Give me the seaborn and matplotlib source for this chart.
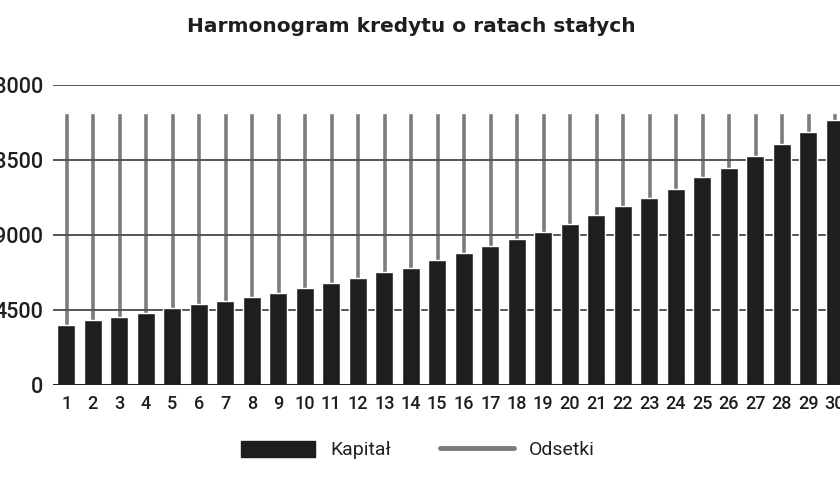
import matplotlib

matplotlib.use("Agg")
import matplotlib.pyplot as plt
import pandas as pd
import seaborn as sns
from matplotlib.lines import Line2D
from matplotlib.patches import Patch

months = list(range(1, 31))
kapital = [3600, 3900, 4060, 4340, 4600, 4840, 5060, 5300, 5550, 5800,
           6100, 6400, 6760, 7040, 7480, 7900, 8320, 8760, 9200, 9640,
           10200, 10760, 11200, 11760, 12480, 13040, 13740, 14460, 15200, 15900]
odsetki = [12700, 12400, 12240, 11960, 11700, 11460, 11240, 11000, 10750, 10500,
           10200, 9900, 9540, 9260, 8820, 8400, 7980, 7540, 7100, 6660,
           6100, 5540, 5100, 4540, 3820, 3260, 2560, 1840, 1100, 400]
y_ticks = [0, 4500, 9000, 13500, 18000]

df = pd.DataFrame({"Miesiac": months, "Kapital": kapital, "Odsetki": odsetki})
df["Rata"] = df["Kapital"] + df["Odsetki"]

sns.set_theme(style="white")
plt.rcParams["font.family"] = ["Roboto", "DejaVu Sans"]

fig = plt.figure(figsize=(8.4, 4.8), dpi=100)
ax = fig.add_axes([53 / 840, 95 / 480, 795 / 840, 300 / 480])

black = "#1e1e1e"
gray = "#7c7c7c"

sns.barplot(data=df, x="Miesiac", y="Rata", color=gray, width=0.2,
            saturation=1, ax=ax, zorder=2)
sns.barplot(data=df, x="Miesiac", y="Kapital", color=black, width=0.68,
            saturation=1, ax=ax, zorder=3)

ax.set_ylim(0, 18000)
ax.set_xlim(-0.5, 29.5)
ax.set_yticks(y_ticks)
ax.set_yticklabels([str(v) for v in y_ticks])
# grid drawn over the thin grey bars, like in the source picture
for v in y_ticks[1:]:
    ax.axhline(v, color="#555555", lw=1.4, zorder=2.5)
ax.axhline(0, color="#222222", lw=2.2, zorder=4)

for s in ax.spines.values():
    s.set_visible(False)
ax.tick_params(axis="y", length=0, pad=7, labelsize=15.5, labelcolor="#1e1e1e")
ax.tick_params(axis="x", length=0, pad=7, labelsize=13, labelcolor="#1e1e1e")
for lbl in ax.get_yticklabels() + ax.get_xticklabels():
    lbl.set_fontweight("medium")
ax.set_xlabel("")
ax.set_ylabel("")

fig.text(411 / 840, 1 - 26 / 480, "Harmonogram kredytu o ratach stałych",
         ha="center", va="center", fontsize=14.5, fontweight="bold",
         color="#1e1e1e", family=["DejaVu Sans"])

handles = [
    Patch(facecolor=black, edgecolor=black, label="Kapitał"),
    Line2D([0], [0], color=gray, lw=3.5, solid_capstyle="round", label="Odsetki"),
]
fig.legend(handles=handles, loc="center", bbox_to_anchor=(418 / 840, 1 - 450 / 480),
           ncol=2, frameon=False, fontsize=14, handlelength=3.8, handleheight=0.9,
           columnspacing=2.5, handletextpad=0.8, labelcolor="#222222")

fig.savefig("out.png", dpi=100)
